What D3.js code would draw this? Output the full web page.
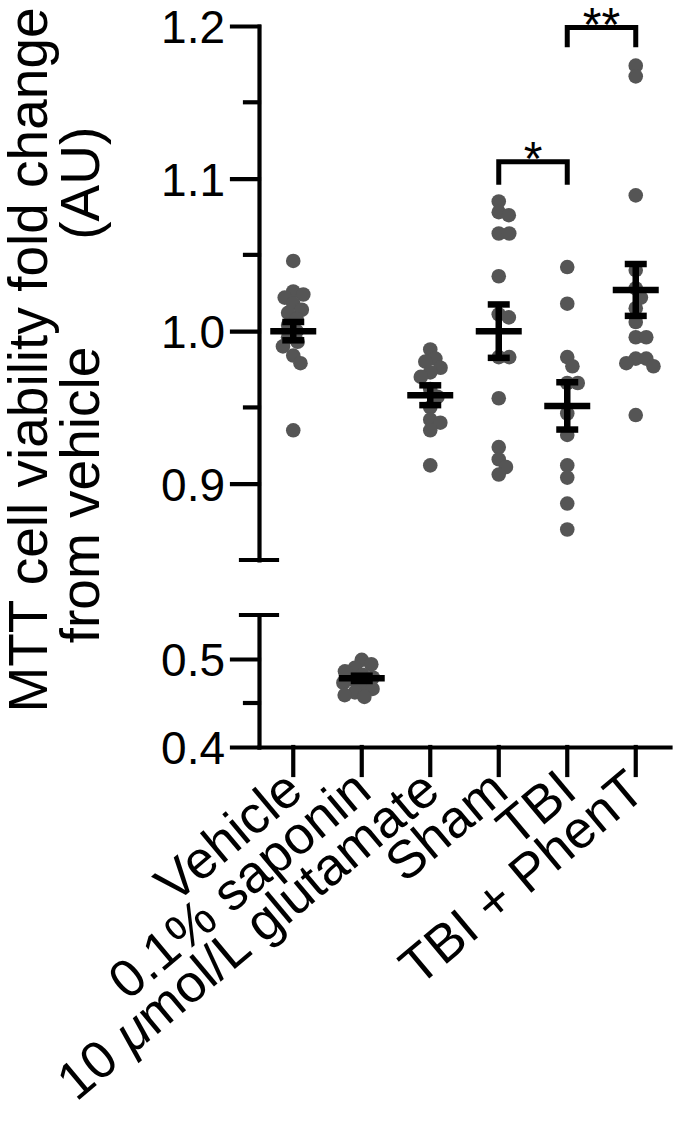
<!DOCTYPE html>
<html>
<head>
<meta charset="utf-8">
<script src="https://cdn.jsdelivr.net/npm/d3@7"></script>
<style>
  html, body { margin: 0; padding: 0; background: #fff; }
  svg { display: block; font-family: "Liberation Sans", Arial, sans-serif; }
</style>
</head>
<body>
<div id="chart"></div>
<script>
// Groups on the x axis
const groups = ["Vehicle", "0.1% saponin", "10 μmol/L glutamate", "Sham", "TBI", "TBI + PhenT"];

// Individual wells (fold change from vehicle)
const vehicle = [1.046, 1.026, 1.024, 1.022, 1.018, 1.014, 1.012, 1.008, 1.004, 1.000, 0.996, 0.993, 0.990, 0.984, 0.979, 0.935];
const saponin = [0.499, 0.494, 0.490, 0.486, 0.482, 0.479, 0.476, 0.473, 0.470, 0.466, 0.462, 0.459, 0.457];
const glutamate = [0.988, 0.982, 0.980, 0.976, 0.973, 0.970, 0.962, 0.957, 0.950, 0.942, 0.940, 0.935, 0.912];
const sham = [1.085, 1.078, 1.076, 1.064, 1.064, 1.036, 1.011, 1.009, 0.983, 0.983, 0.956, 0.924, 0.916, 0.911, 0.906];
const tbi = [1.042, 1.018, 0.983, 0.977, 0.966, 0.966, 0.946, 0.932, 0.912, 0.904, 0.887, 0.870];
const tbiPhenT = [1.174, 1.167, 1.089, 1.040, 1.028, 1.022, 1.015, 1.006, 0.996, 0.996, 0.982, 0.982, 0.979, 0.977, 0.945];

// Mean and SEM as drawn
const means = [1.000, 0.478, 0.958, 1.000, 0.951, 1.027];
const sems = [0.006, 0.003, 0.0065, 0.0175, 0.0155, 0.017];

// Axis ticks (broken axis)
const upperTicks = [0.9, 1.0, 1.1, 1.2];
const upperMinor = [0.95, 1.05, 1.15];
const lowerTicks = [0.4, 0.5];
const lowerMinor = [0.45];

// Significance brackets
const sigFrom = ["Sham", "TBI"];
const sigTo = ["TBI", "TBI + PhenT"];
const sigLevel = [1.111, 1.199];
const sigDrop = [1.096, 1.186];
const sigText = ["*", "**"];

const series = [vehicle, saponin, glutamate, sham, tbi, tbiPhenT];
const lowerGroups = ["0.1% saponin"];

const width = 674, height = 1125;
const axisX = 259;
const stroke = 4.2;
const dotColor = "#555555";

const svg = d3.select("#chart").append("svg")
  .attr("width", width)
  .attr("height", height);

// Scales
const x = d3.scaleBand().domain(groups).range([axisX, 670]);
const yUp = d3.scaleLinear().domain([0.85, 1.2]).range([560, 26]);
const yLow = d3.scaleLinear().domain([0.4, 0.55]).range([747, 615]);
const yFor = g => lowerGroups.includes(g) ? yLow : yUp;
const cx = g => x(g) + x.bandwidth() / 2;

// Upper y axis
const upAxis = svg.append("g")
  .attr("transform", `translate(${axisX},0)`)
  .call(d3.axisLeft(yUp).tickValues(upperTicks).tickSize(27).tickSizeOuter(0)
    .tickFormat(d3.format(".1f")));
upAxis.append("g").selectAll("line")
  .data(upperMinor).enter().append("line")
  .attr("x1", -14).attr("x2", 0)
  .attr("y1", d => yUp(d)).attr("y2", d => yUp(d));
upAxis.append("line")
  .attr("x1", -18).attr("x2", 18)
  .attr("y1", yUp(0.85)).attr("y2", yUp(0.85));

// Lower y axis
const lowAxis = svg.append("g")
  .attr("transform", `translate(${axisX},0)`)
  .call(d3.axisLeft(yLow).tickValues(lowerTicks).tickSize(27).tickSizeOuter(0)
    .tickFormat(d3.format(".1f")));
lowAxis.append("g").selectAll("line")
  .data(lowerMinor).enter().append("line")
  .attr("x1", -14).attr("x2", 0)
  .attr("y1", d => yLow(d)).attr("y2", d => yLow(d));
lowAxis.append("line")
  .attr("x1", -18).attr("x2", 18)
  .attr("y1", yLow(0.55)).attr("y2", yLow(0.55));

// X axis
const xAxis = svg.append("g")
  .attr("transform", `translate(0,${yLow(0.4)})`)
  .call(d3.axisBottom(x).tickSize(28).tickSizeOuter(0).tickFormat(""));

[upAxis, lowAxis, xAxis].forEach(a => {
  a.selectAll("path, line")
    .attr("stroke", "#000")
    .attr("stroke-width", stroke)
    .attr("stroke-linecap", "square");
  a.selectAll("text")
    .attr("fill", "#000")
    .style("font-size", "46px")
    .style("font-family", "'Liberation Sans', Arial, sans-serif");
});
upAxis.selectAll(".tick text").attr("x", -34).attr("dy", "0.36em");
lowAxis.selectAll(".tick text").attr("x", -34).attr("dy", "0.36em");

// X category labels, rotated
const xLabels = svg.append("g");
groups.forEach(g => {
  const t = xLabels.append("text")
    .attr("transform", `translate(${cx(g) + 12},${yLow(0.4) + 48}) rotate(-40)`)
    .attr("text-anchor", "end")
    .attr("fill", "#000")
    .style("font-size", "53px");
  if (g.includes("μ")) {
    const [a, b] = g.split("μ");
    t.append("tspan").text(a);
    t.append("tspan").style("font-style", "italic").text("μ");
    t.append("tspan").text(b);
  } else {
    t.text(g);
  }
});

// Y axis title (two lines)
const yTitle = svg.append("text")
  .attr("transform", "rotate(-90)")
  .attr("text-anchor", "middle")
  .attr("fill", "#000")
  .style("font-size", "55px")
  .style("white-space", "pre");
yTitle.append("tspan").attr("x", -360).attr("y", 47).text("MTT cell viability fold change");
yTitle.append("tspan").attr("x", -385).attr("y", 99).text("from vehicle       (AU)");

// Simple beeswarm: place each dot as near the centre as possible without overlap
function swarm(values, scale, gap) {
  const placed = [];
  values.map(v => ({ v, py: scale(v) }))
    .sort((a, b) => a.py - b.py)
    .forEach(p => {
      const near = placed.filter(q => Math.abs(q.py - p.py) < gap);
      const cands = [0];
      near.forEach(q => {
        const dx = Math.sqrt(gap * gap - (q.py - p.py) ** 2);
        cands.push(q.dx + dx, q.dx - dx);
      });
      cands.sort((a, b) => Math.abs(a) - Math.abs(b));
      const ok = cands.find(c => near.every(q =>
        (q.dx - c) ** 2 + (q.py - p.py) ** 2 >= gap * gap - 0.01));
      placed.push({ v: p.v, py: p.py, dx: ok });
    });
  return placed;
}

const dots = svg.append("g");
groups.forEach((g, i) => {
  const scale = yFor(g);
  dots.selectAll(null)
    .data(swarm(series[i], scale, 10.5))
    .enter().append("circle")
    .attr("cx", d => cx(g) + d.dx)
    .attr("cy", d => d.py)
    .attr("r", 7.3)
    .attr("fill", dotColor);
});

// Mean +/- SEM
const bars = svg.append("g")
  .attr("stroke", "#000")
  .attr("stroke-width", 6.5);
groups.forEach((g, i) => {
  const s = yFor(g), c = cx(g);
  const m = means[i], e = sems[i];
  bars.append("line").attr("x1", c).attr("x2", c).attr("y1", s(m + e)).attr("y2", s(m - e));
  bars.append("line").attr("x1", c - 11).attr("x2", c + 11).attr("y1", s(m + e)).attr("y2", s(m + e));
  bars.append("line").attr("x1", c - 11).attr("x2", c + 11).attr("y1", s(m - e)).attr("y2", s(m - e));
  bars.append("line").attr("x1", c - 23).attr("x2", c + 23).attr("y1", s(m)).attr("y2", s(m));
});

// Significance brackets
const sig = svg.append("g");
sigFrom.forEach((f, i) => {
  const x1 = cx(f), x2 = cx(sigTo[i]);
  sig.append("path")
    .attr("d", `M${x1},${yUp(sigDrop[i])}V${yUp(sigLevel[i])}H${x2}V${yUp(sigDrop[i])}`)
    .attr("fill", "none")
    .attr("stroke", "#000")
    .attr("stroke-width", 5);
  sig.append("text")
    .attr("x", (x1 + x2) / 2)
    .attr("y", yUp(sigLevel[i]) + 13)
    .attr("text-anchor", "middle")
    .attr("fill", "#000")
    .style("font-size", "48px")
    .text(sigText[i]);
});
</script>
</body>
</html>
